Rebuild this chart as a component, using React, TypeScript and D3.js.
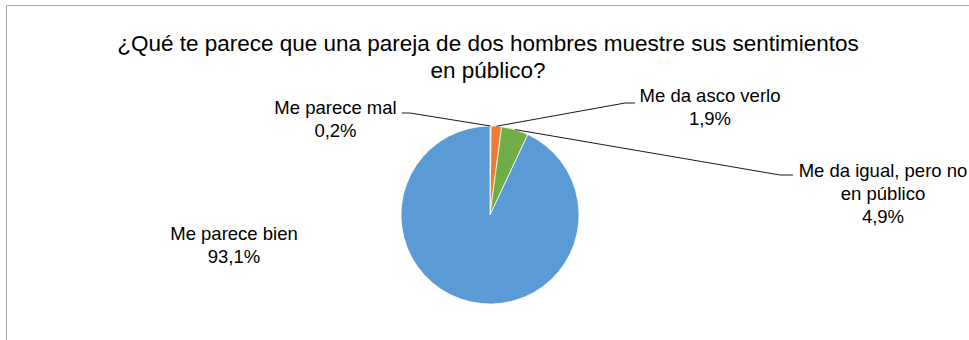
import React from "react";
import * as d3 from "d3";

// slices, clockwise from 12 o'clock (same order as the original workbook)
const categories = ["Me parece mal", "Me da asco verlo", "Me da igual, pero no en público", "Me parece bien"];
const labelLines = [["Me parece mal"], ["Me da asco verlo"], ["Me da igual, pero no", "en público"], ["Me parece bien"]];
const values = [0.2, 1.9, 4.9, 93.1];
const percentLabels = ["0,2%", "1,9%", "4,9%", "93,1%"];
const colors = ["#A5A5A5", "#ED7D31", "#70AD47", "#5B9BD5"];

const titleLines = ["¿Qué te parece que una pareja de dos hombres muestre sus sentimientos", "en público?"];

// where each data label sits (center x, first baseline), plus leader elbow/tip
const labelLayout = [
  { x: 335.5, y: 114, leader: { elbow: 410, tip: 402, y: 113 } },
  { x: 710, y: 102, leader: { elbow: 625, tip: 635, y: 103 } },
  { x: 883, y: 177, leader: { elbow: 780, tip: 793, y: 175 } },
  { x: 234, y: 240, leader: null },
];

const W = 969;
const H = 340;
const FONT = "'Liberation Sans', Arial, sans-serif";

const App: React.FC = () => {
  const cx = 490;
  const cy = 215;
  const r = 89;

  const pie = d3.pie<number>().sort(null).value(d => d)(values);
  const arc = d3.arc<d3.PieArcDatum<number>>().innerRadius(0).outerRadius(r);
  const edge = d3.arc<d3.PieArcDatum<number>>().innerRadius(r).outerRadius(r);

  const lineHeight = 23;

  return (
    <svg width={W} height={H} style={{ position: "absolute", left: 0, top: 0, background: "#fff" }} fontFamily={FONT}>
      <rect x={0} y={0} width={W} height={H} fill="#fff" />
      {/* chart area border (only top & left visible in the crop) */}
      <line x1={6.5} y1={5.5} x2={W} y2={5.5} stroke="#a6a6a6" />
      <line x1={6.5} y1={5.5} x2={6.5} y2={H} stroke="#a6a6a6" />

      <text x={488} textAnchor="middle" fontSize={22.5} fill="#000">
        {titleLines.map((t, i) => (
          <tspan key={i} x={488} y={51 + i * 27}>{t}</tspan>
        ))}
      </text>

      <g transform={`translate(${cx},${cy})`}>
        {pie.map((p, i) => (
          <path key={categories[i]} d={arc(p) || ""} fill={colors[i]} stroke="#fff" strokeWidth={0.75} />
        ))}
      </g>

      {pie.map((p, i) => {
        const lay = labelLayout[i];
        if (!lay.leader) return null;
        const [ex, ey] = edge.centroid(p);
        const pts: [number, number][] = [
          [cx + ex, cy + ey],
          [lay.leader.elbow, lay.leader.y],
          [lay.leader.tip, lay.leader.y],
        ];
        return (
          <path key={`l${i}`} d={d3.line()(pts) || ""} fill="none" stroke="#1a1a1a" strokeWidth={1} />
        );
      })}

      {labelLayout.map((lay, i) => {
        const lines = [...labelLines[i], percentLabels[i]];
        return (
          <text key={`t${i}`} textAnchor="middle" fontSize={18.5} fill="#000">
            {lines.map((t, j) => (
              <tspan key={j} x={lay.x} y={lay.y + j * lineHeight}>{t}</tspan>
            ))}
          </text>
        );
      })}
    </svg>
  );
};

export default App;
